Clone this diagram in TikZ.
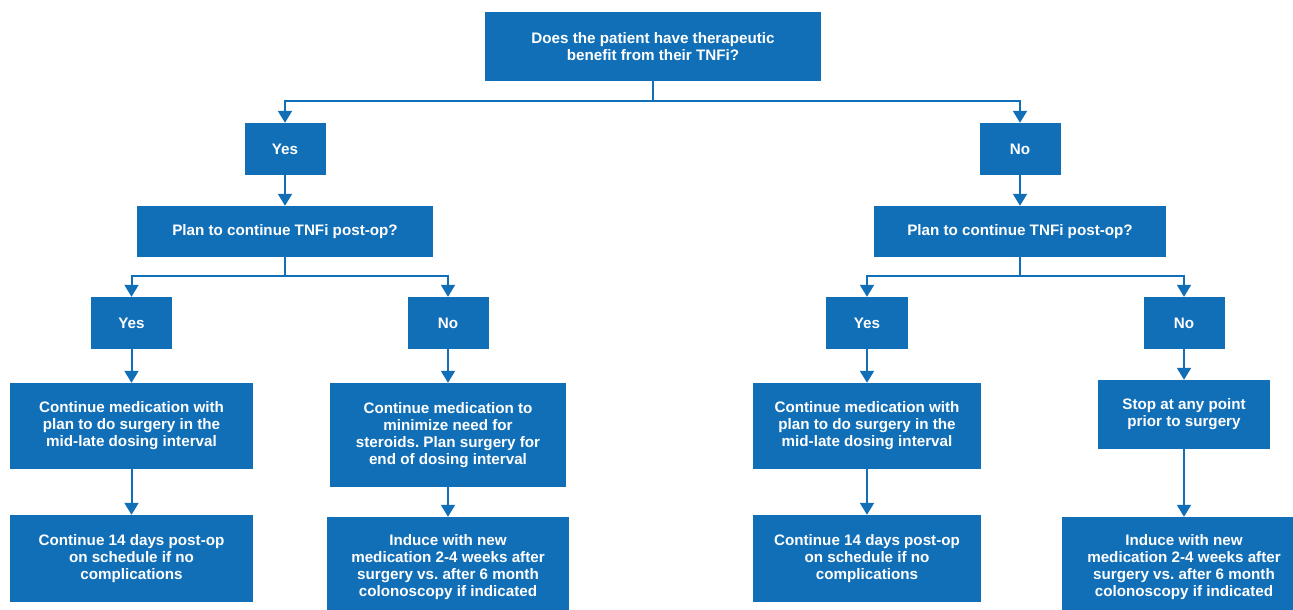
\documentclass[tikz,border=0pt]{standalone}
\usepackage{fontspec}
\setmainfont{Liberation Sans}
\usetikzlibrary{arrows.meta}
\definecolor{flowblue}{RGB}{17,111,184}
\tikzset{
  box/.style={fill=flowblue, text=white, align=center, inner sep=2pt,
    font=\frenchspacing\bfseries\fontsize{15.2}{17}\selectfont},
  conn/.style={draw=flowblue, line width=2pt,
    -{Triangle[width=14pt,length=12pt]}},
}
\begin{document}
\begin{tikzpicture}[x=1pt,y=-1pt]
\useasboundingbox (0,0) rectangle (1293,610);
\clip (0,0) rectangle (1293,610);
\fill[white] (0,0) rectangle (1293,610);

\node[box, minimum width=336pt, minimum height=69pt] (top) at (653,46.5)
  {Does the patient have therapeutic\\benefit from their TNFi?};

\node[box, minimum width=81pt, minimum height=52pt] (yesA) at (285,149) {Yes};
\node[box, minimum width=81pt, minimum height=52pt] (noA) at (1020,149) {No};

\node[box, minimum width=296pt, minimum height=51pt] (planL) at (285,231.5) {Plan to continue TNFi post-op?};
\node[box, minimum width=292pt, minimum height=51pt] (planR) at (1020,231.5) {Plan to continue TNFi post-op?};

\node[box, minimum width=81pt, minimum height=52pt] (yesLL) at (131.5,323) {Yes};
\node[box, minimum width=81pt, minimum height=52pt] (noLR) at (448,323) {No};
\node[box, minimum width=82pt, minimum height=52pt] (yesRL) at (867,323) {Yes};
\node[box, minimum width=81pt, minimum height=52pt] (noRR) at (1184,323) {No};

\node[box, minimum width=243pt, minimum height=86pt] (contL) at (131.5,426)
  {Continue medication with\\plan to do surgery in the\\mid-late dosing interval};
\node[box, minimum width=236pt, minimum height=104pt] (contML) at (448,435)
  {Continue medication to\\minimize need for\\steroids. Plan surgery for\\end of dosing interval};
\node[box, minimum width=228pt, minimum height=86pt] (contMR) at (867,426)
  {Continue medication with\\plan to do surgery in the\\mid-late dosing interval};
\node[box, minimum width=172pt, minimum height=69pt] (stopRR) at (1184,414.5)
  {Stop at any point\\prior to surgery};

\node[box, minimum width=243pt, minimum height=87pt] (botL) at (131.5,558.5)
  {Continue 14 days post-op\\on schedule if no\\complications};
\node[box, minimum width=242pt, minimum height=100pt] (botML) at (448,567)
  {Induce with new\\medication 2-4 weeks after\\surgery vs. after 6 month\\colonoscopy if indicated};
\node[box, minimum width=228pt, minimum height=87pt] (botMR) at (867,558.5)
  {Continue 14 days post-op\\on schedule if no\\complications};
\node[box, minimum width=244pt, minimum height=100pt] (botRR) at (1184,567)
  {Induce with new\\medication 2-4 weeks after\\surgery vs. after 6 month\\colonoscopy if indicated};

\draw[conn] (top.south) -- ++(0,20) -| (yesA.north);
\draw[conn] (top.south) -- ++(0,20) -| (noA.north);
\draw[conn] (yesA.south) -- (planL.north);
\draw[conn] (noA.south) -- (planR.north);
\draw[conn] (planL.south) -- ++(0,19) -| (yesLL.north);
\draw[conn] (planL.south) -- ++(0,19) -| (noLR.north);
\draw[conn] (planR.south) -- ++(0,19) -| (yesRL.north);
\draw[conn] (planR.south) -- ++(0,19) -| (noRR.north);
\draw[conn] (yesLL.south) -- (contL.north);
\draw[conn] (noLR.south) -- (contML.north);
\draw[conn] (yesRL.south) -- (contMR.north);
\draw[conn] (noRR.south) -- (stopRR.north);
\draw[conn] (contL.south) -- (botL.north);
\draw[conn] (contML.south) -- (botML.north);
\draw[conn] (contMR.south) -- (botMR.north);
\draw[conn] (stopRR.south) -- (botRR.north);
\end{tikzpicture}
\end{document}
